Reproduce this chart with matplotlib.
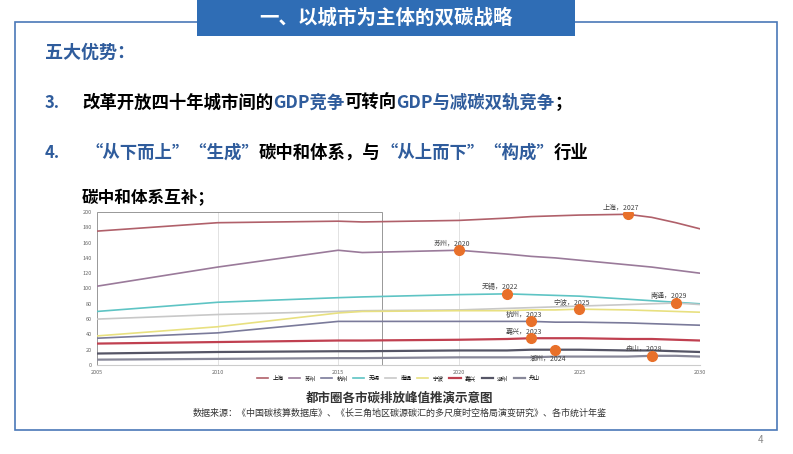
import numpy as np
import matplotlib.pyplot as plt
from matplotlib.patches import Rectangle

plt.rcParams['font.family'] = ['Noto Sans CJK SC', 'DejaVu Sans']

# City emission curves
years = [2005, 2010, 2015, 2016, 2020, 2022, 2023, 2024, 2025, 2027, 2028, 2029, 2030]
cities = ['上海', '苏州', '杭州', '无锡', '南通', '宁波', '嘉兴', '湖州', '舟山']
series = {
    '上海': [175, 186, 188, 187, 189, 192, 194, 195, 196, 197, 193, 186, 178],
    '苏州': [103, 128, 150, 147, 150, 145, 142, 140, 137, 131, 128, 124, 120],
    '杭州': [35, 42, 57, 57, 57, 57, 57, 56, 56, 55, 54, 53, 52],
    '无锡': [70, 82, 88, 89, 92, 93, 92, 91, 90, 86, 84, 82, 80],
    '南通': [60, 66, 70, 71, 72, 74, 75, 76, 77, 79, 80, 81, 79],
    '宁波': [38, 50, 68, 70, 71, 71, 72, 72, 73, 72, 71, 70, 69],
    '嘉兴': [28, 30, 32, 32, 33, 34, 35, 35, 35, 34, 34, 33, 32],
    '湖州': [15, 17, 18, 18, 19, 19, 20, 20, 20, 19, 19, 18, 17],
    '舟山': [7, 8, 9, 9, 10, 10, 10, 11, 11, 11, 12, 12, 11],
}
colors = ['#b0606a', '#9a7a9a', '#7a7a9a', '#5ec4c4', '#c8c8c8', '#e8e080',
          '#c04050', '#555566', '#888899']
peaks = [('上海，2027', 2027, 197), ('苏州，2020', 2020, 150), ('无锡，2022', 2022, 93),
         ('宁波，2025', 2025, 73), ('南通，2029', 2029, 81), ('杭州，2023', 2023, 57),
         ('嘉兴，2023', 2023, 35), ('湖州，2024', 2024, 20), ('舟山，2028', 2028, 12)]

BLUE = '#2f5c9c'
line3 = [('改革开放四十年城市间的', 'black'), ('GDP竞争', BLUE), ('可转向', 'black'),
         ('GDP与减碳双轨竞争', BLUE), ('；', 'black')]
line4 = [('“从下而上”“生成”', BLUE), ('碳中和体系，与', 'black'),
         ('“从上而下”“构成”', BLUE), ('行业', 'black')]

fig = plt.figure(figsize=(7.93, 4.54), dpi=100)
fig.patch.set_facecolor('white')
renderer = fig.canvas.get_renderer()


def run_text(x, y, parts, size=12.5):
    # place coloured pieces one after another on the same line
    for s, c in parts:
        t = fig.text(x, y, s, color=c, fontsize=size, fontweight='bold', va='center')
        bb = t.get_window_extent(renderer=renderer)
        x += bb.width / fig.bbox.width


# slide frame and title banner
fig.patches.append(Rectangle((15/793, 1 - 430/454), 762/793, 408/454, transform=fig.transFigure,
                             fill=False, edgecolor='#4a78b8', lw=1.2))
fig.patches.append(Rectangle((197/793, 1 - 36/454), 378/793, 36/454, transform=fig.transFigure,
                             facecolor='#2f6db5', edgecolor='none'))
fig.text(386/793, 1 - 18/454, '一、以城市为主体的双碳战略', color='white', fontsize=14,
         fontweight='bold', ha='center', va='center')
fig.text(45/793, 1 - 52/454, '五大优势：', color=BLUE, fontsize=13, fontweight='bold', va='center')
fig.text(45/793, 1 - 103/454, '3.', color=BLUE, fontsize=12, fontweight='bold', va='center')
run_text(82/793, 1 - 103/454, line3)
fig.text(45/793, 1 - 153/454, '4.', color=BLUE, fontsize=12, fontweight='bold', va='center')
run_text(85/793, 1 - 153/454, line4)
fig.text(82/793, 1 - 198/454, '碳中和体系互补；', fontsize=12, fontweight='bold', va='center')

ax = fig.add_axes([97/793, 1 - 365/454, 603/793, 153/454])
for name, c in zip(cities, colors):
    lw = 1.6 if name in ('湖州', '舟山', '嘉兴') else 1.2
    ax.plot(years, series[name], color=c, lw=lw, label=name)
for lab, x, y in peaks:
    ax.plot(x, y, 'o', color='#e8702a', ms=7, zorder=5)
    dy = -12 if lab.startswith('湖州') else 9
    ax.text(x - 0.3, y + dy, lab, fontsize=5, color='#444444', ha='center', va='center')
for gx in [2010, 2015, 2020]:
    ax.axvline(gx, color='#dddddd', lw=0.6, zorder=0)
ax.add_patch(Rectangle((2005, 0), 11.8, 200, fill=False, edgecolor='#888888', lw=0.6))
ax.set_xlim(2005, 2030)
ax.set_ylim(0, 200)
ax.set_xticks([2005, 2010, 2015, 2020, 2025, 2030])
ax.set_yticks(range(0, 201, 20))
ax.tick_params(labelsize=4, length=0, colors='#666666')
for s in ax.spines.values():
    s.set_visible(False)
ax.spines['bottom'].set_visible(True)
ax.spines['bottom'].set_color('#cccccc')
ax.legend(ncol=9, fontsize=4, loc='upper center', bbox_to_anchor=(0.5, -0.05), frameon=False,
          handlelength=2, columnspacing=1, borderpad=0)

fig.text(400/793, 1 - 398/454, '都市圈各市碳排放峰值推演示意图', fontsize=9, fontweight='bold',
         ha='center', va='center', color='#333333')
fig.text(400/793, 1 - 413/454, '数据来源：《中国碳核算数据库》、《长三角地区碳源碳汇的多尺度时空格局演变研究》、各市统计年鉴',
         fontsize=6.5, ha='center', va='center', color='#333333')
fig.text(760/793, 1 - 440/454, '4', fontsize=7, color='#888888', ha='center', va='center')

fig.savefig('out.png', dpi=100)
